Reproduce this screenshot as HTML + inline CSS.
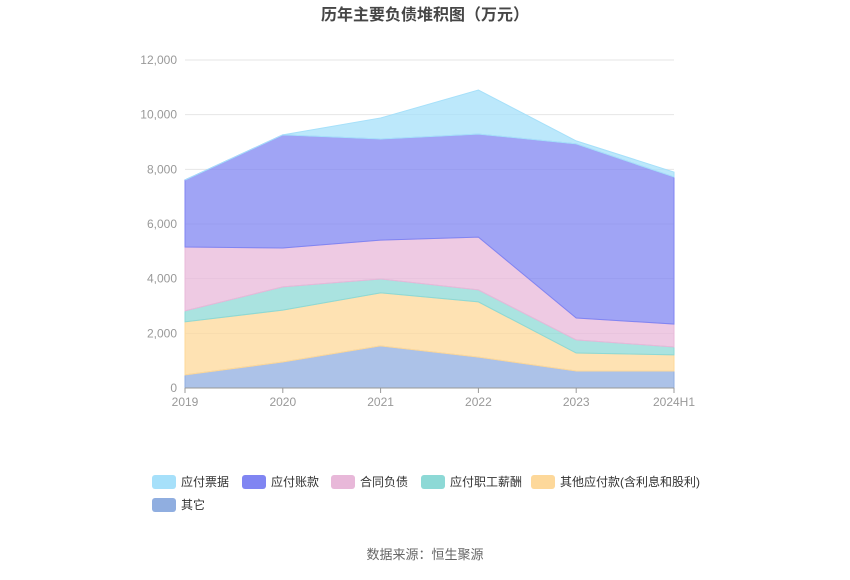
<!DOCTYPE html>
<html><head><meta charset="utf-8"><style>
body{margin:0;background:#fff;font-family:"Liberation Sans","Noto Sans CJK SC",sans-serif}
</style></head><body>
<svg id="c" width="850" height="575" xmlns="http://www.w3.org/2000/svg">
<text x="425" y="20" text-anchor="middle" font-size="16" font-weight="bold" fill="#464646">历年主要负债堆积图（万元）</text>
<g id="grid"></g><g id="areas"></g><g id="axes"></g><g id="legend"></g>
<text x="425" y="559" text-anchor="middle" font-size="13" fill="#666">数据来源：恒生聚源</text>
</svg>
<script>
const categories=["2019","2020","2021","2022","2023","2024H1"];
const seriesNames=["其它","其他应付款(含利息和股利)","应付职工薪酬","合同负债","应付账款","应付票据"];
const other=[480,950,1540,1130,620,620];
const otherPayable=[1940,1900,1940,2020,660,590];
const staffPay=[400,850,510,440,480,290];
const contract=[2340,1420,1420,1930,800,840];
const accountsPay=[2450,4140,3700,3770,6370,5380];
const notesPay=[0,0,770,1610,110,180];
const yTicks=[0,2000,4000,6000,8000,10000,12000];
const colors=["#90aee0","#fdd89a","#8dd9d6","#e8b8d9","#8085f2","#a6e0fa"];
const ns="http://www.w3.org/2000/svg";
const x0=185,x1=674,y0=388,y1=60,yMax=12000;
const X=i=>x0+(x1-x0)*i/(categories.length-1);
const Y=v=>y0-(y0-y1)*v/yMax;
function mk(t,a,p){const e=document.createElementNS(ns,t);for(const k in a)e.setAttribute(k,a[k]);p.appendChild(e);return e;}
const grid=document.getElementById('grid'),axes=document.getElementById('axes'),areas=document.getElementById('areas'),legend=document.getElementById('legend');
yTicks.forEach(t=>{
 const l=mk('line',{x1:x0,x2:x1,y1:Y(t),y2:Y(t),stroke:"#e6e6e6"},grid);
 
 
 const tx=mk('text',{x:177,y:Y(t)+4,'text-anchor':'end','font-size':12,fill:'#999'},axes);
 tx.textContent=t.toLocaleString('en-US');
 
 
});
const ax=mk('line',{x1:x0,x2:x1,y1:y0,y2:y0,stroke:'#999'},axes);


categories.forEach((c,i)=>{
 const tk=mk('line',{x1:X(i),x2:X(i),y1:y0,y2:y0+5,stroke:'#999'},axes);
 
 
 const tx=mk('text',{x:X(i),y:y0+18,'text-anchor':'middle','font-size':12,fill:'#999'},axes);
 tx.textContent=c;
 
 
});
const data=[other,otherPayable,staffPay,contract,accountsPay,notesPay];
const base=categories.map(()=>0);
data.forEach((s,k)=>{
 const lo=base.slice();const hi=base.map((b,i)=>b+s[i]);
 let d=hi.map((v,i)=>(i?'L':'M')+X(i)+','+Y(v)).join('');
 for(let i=lo.length-1;i>=0;i--)d+='L'+X(i)+','+Y(lo[i]);
 const p=mk('path',{d:d+'Z',fill:colors[k],'fill-opacity':0.75,stroke:colors[k],'stroke-width':1},areas);
 
 
 hi.forEach((v,i)=>base[i]=v);
});
const legendOrder=[5,4,3,2,1,0];
const pos=[[152,482],[242,482],[331,482],[421,482],[531,482],[152,505]];
legendOrder.forEach((k,j)=>{
 const g=mk('g',{},legend);
 
 
 mk('rect',{x:pos[j][0],y:pos[j][1]-7,width:24,height:14,rx:3,fill:colors[k]},g);
 const t=mk('text',{x:pos[j][0]+29,y:pos[j][1]+4,'font-size':12,fill:'#333'},g);
 t.textContent=seriesNames[k];
});
</script>
</body></html>
